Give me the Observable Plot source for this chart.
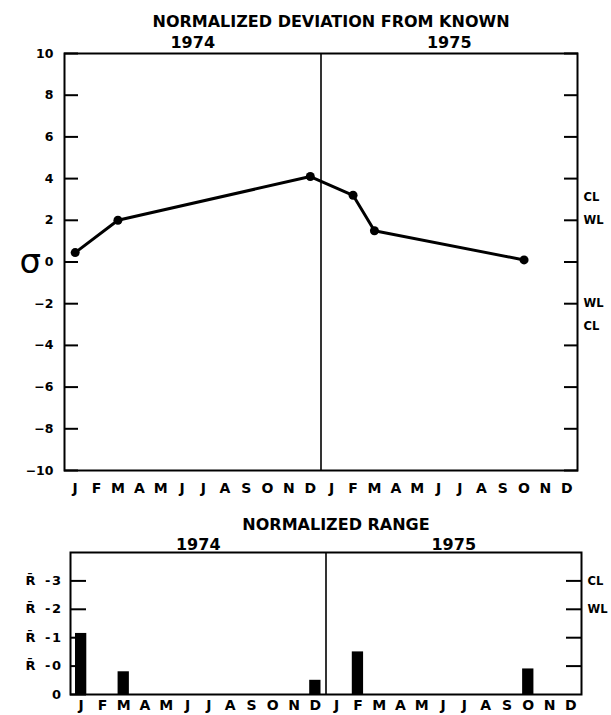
<!DOCTYPE html>
<html>
<head>
<meta charset="utf-8">
<script src="https://cdn.jsdelivr.net/npm/d3@7"></script>
<script src="https://cdn.jsdelivr.net/npm/@observablehq/plot@0.6"></script>
<style>
  html, body { margin: 0; padding: 0; background: #fff; }
  #chart { width: 611px; height: 715px; overflow: hidden; }
  #chart svg { display: block; }
  #chart svg.rng g[aria-label="y-axis tick label"] text { letter-spacing: 1.5px; word-spacing: 2px; }
</style>
</head>
<body>
<div id="chart"></div>
<script>
// ---- data ----
const months = ["J","F","M","A","M","J","J","A","S","O","N","D"];
const years = [1974, 1975];

const devTitle = "NORMALIZED DEVIATION FROM KNOWN";
const devYear  = [1974, 1974, 1974, 1975, 1975, 1975];
const devMonth = [0, 2, 11, 1, 2, 9];
const devValue = [0.45, 2.0, 4.1, 3.2, 1.5, 0.1];
const sigmaTickValues = [-10, -8, -6, -4, -2, 0, 2, 4, 6, 8, 10];
const sigmaSymbol = "σ";
const devLimitValues = [3.1, 2, -2, -3.1];
const devLimitLabels = ["CL", "WL", "WL", "CL"];

const rngTitle = "NORMALIZED RANGE";
const rngYear  = [1974, 1974, 1974, 1975, 1975];
const rngMonth = [0, 2, 11, 1, 9];
const rngValue = [2.15, 0.8, 0.5, 1.5, 0.9];
const rngTickValues = [0, 1, 2, 3, 4];
const rngTickLabels = ["0", "R\u0304 -0", "R\u0304 -1", "R\u0304 -2", "R\u0304 -3"];
const rngRightTicks = [1, 2, 3, 4];
const rngLimitValues = [4, 3];
const rngLimitLabels = ["CL", "WL"];

// ---- derived tables ----
const slotOf = (y, m) => (y - years[0]) * 12 + m;
const nSlots = years.length * 12;
const slotCenters = d3.range(nSlots).map(s => s + 0.5);
const yearCenters = years.map(y => slotOf(y, 6));
const yearBreaks = years.slice(1).map(y => slotOf(y, 0));

const dev = devValue.map((v, i) => ({x: slotOf(devYear[i], devMonth[i]) + 0.5, v}));
const devLimits = devLimitValues.map((v, i) => ({v, label: devLimitLabels[i]}));
const rng = rngValue.map((v, i) => ({s: slotOf(rngYear[i], rngMonth[i]), v}));
const rngLimits = rngLimitValues.map((v, i) => ({v, label: rngLimitLabels[i]}));

const font = "DejaVu Sans";
const monthFmt = d => months[Math.floor(d) % 12];

// ---- top chart ----
const devChart = Plot.plot({
  width: 611, height: 500,
  marginLeft: 64, marginRight: 34, marginTop: 53, marginBottom: 30,
  x: {type: "linear", domain: [0, nSlots], axis: null},
  y: {domain: [-10, 10], axis: null},
  style: {fontFamily: font, fontWeight: "bold", fontSize: "12px", color: "black", background: "white"},
  marks: [
    Plot.frame({strokeWidth: 2}),
    Plot.ruleX(yearBreaks, {strokeWidth: 1.6}),
    Plot.axisY(sigmaTickValues, {anchor: "left", label: null, tickSize: -14, tickPadding: 25, strokeWidth: 2, fontSize: 12.5}),
    Plot.axisY(sigmaTickValues, {anchor: "right", label: null, tickSize: -14, tickFormat: () => "", strokeWidth: 2}),
    Plot.axisX(slotCenters, {anchor: "bottom", label: null, tickSize: 0, tickPadding: 13, tickFormat: monthFmt, fontSize: 14}),
    Plot.text(devLimits, {y: "v", text: "label", frameAnchor: "right", dx: 6, textAnchor: "start", fontSize: 11.5}),
    Plot.text([0], {y: d => d, text: () => sigmaSymbol, frameAnchor: "left", dx: -45, fontSize: 34, fontWeight: "normal"}),
    Plot.text([devTitle], {text: d => d, frameAnchor: "top", dx: 10, dy: -38, fontSize: 16}),
    Plot.text(years, {x: (d, i) => yearCenters[i], text: d => String(d), frameAnchor: "top", dy: -17, fontSize: 16}),
    Plot.line(dev, {x: "x", y: "v", strokeWidth: 3}),
    Plot.dot(dev, {x: "x", y: "v", r: 4.5, fill: "black"})
  ]
});

// ---- bottom chart ----
const rngChart = Plot.plot({
  width: 611, height: 215,
  marginLeft: 70, marginRight: 30, marginTop: 52, marginBottom: 21,
  className: "rng",
  x: {type: "linear", domain: [0, nSlots], axis: null},
  y: {domain: [0, 5], axis: null},
  style: {fontFamily: font, fontWeight: "bold", fontSize: "12px", color: "black", background: "white"},
  marks: [
    Plot.rectY(rng, {x1: "s", x2: d => d.s + 1, y: "v", insetLeft: 5, insetRight: 5, fill: "black"}),
    Plot.frame({strokeWidth: 2}),
    Plot.ruleX(yearBreaks, {strokeWidth: 1.6}),
    Plot.axisY(rngTickValues, {anchor: "left", label: null, tickSize: -16, tickPadding: 24, strokeWidth: 2, fontSize: 13,
      tickFormat: d => rngTickLabels[rngTickValues.indexOf(d)]}),
    Plot.axisY(rngRightTicks, {anchor: "right", label: null, tickSize: -16, tickFormat: () => "", strokeWidth: 2}),
    Plot.axisX(slotCenters, {anchor: "bottom", label: null, tickSize: 0, tickPadding: 6, tickFormat: monthFmt, fontSize: 14}),
    Plot.text(rngLimits, {y: "v", text: "label", frameAnchor: "right", dx: 6, textAnchor: "start", fontSize: 11.5}),
    Plot.text([rngTitle], {text: d => d, frameAnchor: "top", dx: 10, dy: -34, fontSize: 16}),
    Plot.text(years, {x: (d, i) => yearCenters[i], text: d => String(d), frameAnchor: "top", dy: -14, fontSize: 16})
  ]
});

const root = document.getElementById("chart");
root.appendChild(devChart);
root.appendChild(rngChart);
</script>
</body>
</html>
